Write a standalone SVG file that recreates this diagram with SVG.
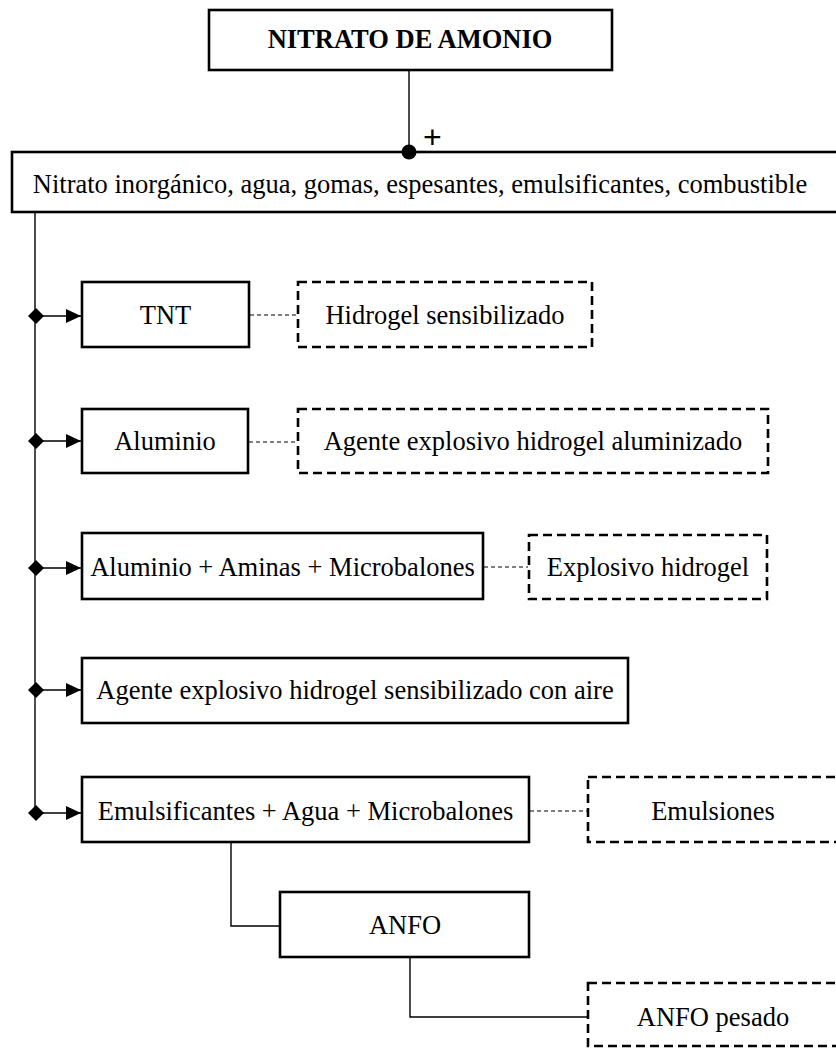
<svg xmlns="http://www.w3.org/2000/svg" width="836" height="1048" viewBox="0 0 836 1048">
  <defs>
    <style>
      .box { fill: #ffffff; stroke: #000000; stroke-width: 2.6; }
      .dbox { fill: #ffffff; stroke: #000000; stroke-width: 2.6; stroke-dasharray: 9 5; }
      .lbl { font-family: "Liberation Serif", "Times New Roman", serif; font-size: 26.5px; fill: #000000; text-anchor: middle; }
      .title { font-weight: bold; }
      .wire { fill: none; stroke: #000000; stroke-width: 1.4; }
      .dots { fill: none; stroke: #000000; stroke-width: 1.2; stroke-dasharray: 4 3; }
      .plus { font-family: "Liberation Sans", Arial, sans-serif; font-size: 32px; fill: #000000; }
    </style>
    <marker id="arrow" viewBox="0 0 15 14" refX="15" refY="7" markerWidth="15" markerHeight="14" markerUnits="userSpaceOnUse" orient="auto">
      <path d="M0,0 L15,7 L0,14 Z" fill="#000000"/>
    </marker>
    <marker id="diamond" viewBox="0 0 16 16" refX="8" refY="8" markerWidth="16" markerHeight="16" markerUnits="userSpaceOnUse" orient="auto">
      <path d="M0,8 L8,0 L16,8 L8,16 Z" fill="#000000"/>
    </marker>
  </defs>

  <rect width="836" height="1048" fill="#ffffff"/>

  <g id="nitrato-amonio">
    <rect class="box" x="209" y="10" width="403" height="60"/>
    <text class="lbl title" x="410" y="48">NITRATO DE AMONIO</text>
  </g>

  <g id="componentes">
    <rect class="box" x="12" y="152" width="832" height="60"/>
    <text class="lbl" x="420" y="193">Nitrato inorgánico, agua, gomas, espesantes, emulsificantes, combustible</text>
  </g>

  <g id="tnt">
    <rect class="box" x="82" y="282" width="167" height="65"/>
    <text class="lbl" x="165.5" y="324">TNT</text>
  </g>
  <g id="hidrogel-sensibilizado">
    <rect class="dbox" x="298" y="282" width="294" height="65"/>
    <text class="lbl" x="445" y="324">Hidrogel sensibilizado</text>
  </g>

  <g id="aluminio">
    <rect class="box" x="82" y="409" width="166" height="64"/>
    <text class="lbl" x="165" y="450">Aluminio</text>
  </g>
  <g id="hidrogel-aluminizado">
    <rect class="dbox" x="298" y="409" width="470" height="64"/>
    <text class="lbl" x="533" y="450">Agente explosivo hidrogel aluminizado</text>
  </g>

  <g id="aluminio-aminas">
    <rect class="box" x="82" y="533" width="401" height="66"/>
    <text class="lbl" x="282.5" y="576">Aluminio + Aminas + Microbalones</text>
  </g>
  <g id="explosivo-hidrogel">
    <rect class="dbox" x="529" y="535" width="238" height="64"/>
    <text class="lbl" x="648" y="576">Explosivo hidrogel</text>
  </g>

  <g id="hidrogel-aire">
    <rect class="box" x="82" y="658" width="546" height="65"/>
    <text class="lbl" x="355" y="699">Agente explosivo hidrogel sensibilizado con aire</text>
  </g>

  <g id="emulsificantes">
    <rect class="box" x="82" y="777" width="447" height="65"/>
    <text class="lbl" x="305.5" y="820">Emulsificantes + Agua + Microbalones</text>
  </g>
  <g id="emulsiones">
    <rect class="dbox" x="588" y="777" width="256" height="65"/>
    <text class="lbl" x="713" y="820">Emulsiones</text>
  </g>

  <g id="anfo">
    <rect class="box" x="280" y="892" width="249" height="65"/>
    <text class="lbl" x="405" y="934">ANFO</text>
  </g>
  <g id="anfo-pesado">
    <rect class="dbox" x="588" y="983" width="256" height="63"/>
    <text class="lbl" x="713" y="1026">ANFO pesado</text>
  </g>

  <!-- connectors, drawn above the boxes -->
  <g id="connectors">
    <line class="wire" x1="409" y1="71" x2="409" y2="152"/>
    <circle cx="409" cy="152" r="7.5" fill="#000000"/>
    <text class="plus" x="423" y="148">+</text>
    <!-- spine -->
    <line class="wire" x1="35" y1="213" x2="35" y2="813"/>
    <!-- branches -->
    <line class="wire" x1="36" y1="316" x2="81" y2="316" marker-start="url(#diamond)" marker-end="url(#arrow)"/>
    <line class="wire" x1="36" y1="441" x2="81" y2="441" marker-start="url(#diamond)" marker-end="url(#arrow)"/>
    <line class="wire" x1="36" y1="568" x2="81" y2="568" marker-start="url(#diamond)" marker-end="url(#arrow)"/>
    <line class="wire" x1="36" y1="690" x2="81" y2="690" marker-start="url(#diamond)" marker-end="url(#arrow)"/>
    <line class="wire" x1="36" y1="813" x2="81" y2="813" marker-start="url(#diamond)" marker-end="url(#arrow)"/>
    <!-- dotted links to results -->
    <line class="dots" x1="250" y1="315" x2="297" y2="315"/>
    <line class="dots" x1="249" y1="442" x2="297" y2="442"/>
    <line class="dots" x1="484" y1="567" x2="528" y2="567"/>
    <line class="dots" x1="530" y1="811" x2="587" y2="811"/>
    <!-- elbow links -->
    <polyline class="wire" points="231,843 231,926 279,926"/>
    <polyline class="wire" points="410,958 410,1017 587,1017"/>
  </g>
</svg>
